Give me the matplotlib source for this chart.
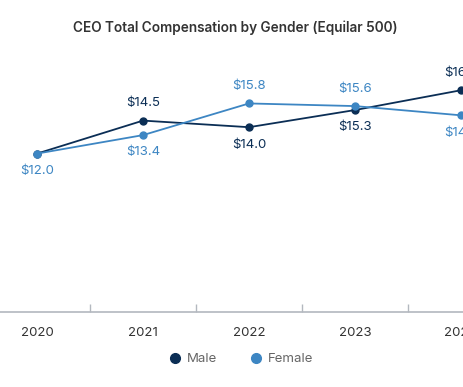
import matplotlib
matplotlib.use("Agg")
import matplotlib.pyplot as plt
from matplotlib.lines import Line2D

years = ["2020", "2021", "2022", "2023", "2024"]
male = [12.0, 14.5, 14.0, 15.3, 16.8]
female = [12.0, 13.4, 15.8, 15.6, 14.9]
# label placement: +1 above, -1 below, 0 hidden
male_pos = [0, 1, -1, -1, 1]
female_pos = [-1, -1, 1, 1, -1]

MALE_C = "#0b2e55"
FEMALE_C = "#3d86c3"

plt.rcParams["font.family"] = ["Inter", "DejaVu Sans"]

W, H = 464, 387
fig = plt.figure(figsize=(W / 100, H / 100), dpi=100)
# axes extend past the figure edges (the reference is a crop of a wider chart)
ax = fig.add_axes([-16 / W, 75 / H, 530 / W, 264 / H])

x = list(range(len(years)))
ax.plot(x, male, color=MALE_C, lw=1.3, marker="o", ms=5, zorder=3)
ax.plot(x, female, color=FEMALE_C, lw=1.3, marker="o", ms=5, zorder=3)

for vals, pos, c in [(male, male_pos, MALE_C), (female, female_pos, FEMALE_C)]:
    for i, (v, p) in enumerate(zip(vals, pos)):
        if p == 0:
            continue
        ax.annotate(f"${v:.1f}", (i, v), xytext=(0, 12.5 * p), textcoords="offset points",
                    ha="center", va="center", color=c, fontsize=9.5)

ax.set_xlim(-0.5, len(years) - 0.5)
ax.set_ylim(0, 20)
ax.set_yticks([])
for s in ["top", "right", "left"]:
    ax.spines[s].set_visible(False)
ax.spines["bottom"].set_color("#b3b8bf")
ax.spines["bottom"].set_linewidth(1.2)

ax.set_xticks(x)
ax.set_xticklabels(years, fontsize=9.5, color="#333333")
ax.tick_params(axis="x", which="major", length=0, pad=11)
ax.set_xticks([i + 0.5 for i in x[:-1]], minor=True)
ax.tick_params(axis="x", which="minor", direction="in", length=5.5, color="#b3b8bf", width=1)

fig.text(235 / W, 1 - 28 / H, "CEO Total Compensation by Gender (Equilar 500)",
         ha="center", va="center", fontsize=9.8, fontweight="semibold", color="#333333")

handles = [Line2D([], [], ls="none", marker="o", ms=7, color=MALE_C),
           Line2D([], [], ls="none", marker="o", ms=7, color=FEMALE_C)]
fig.legend(handles, ["Male", "Female"], loc="center", bbox_to_anchor=(241 / W, 1 - 359 / H),
           ncol=2, frameon=False, fontsize=9.5, labelcolor="#666666", handletextpad=0.4,
           columnspacing=2.4, handlelength=1.0)

fig.savefig("out.png", dpi=100)
